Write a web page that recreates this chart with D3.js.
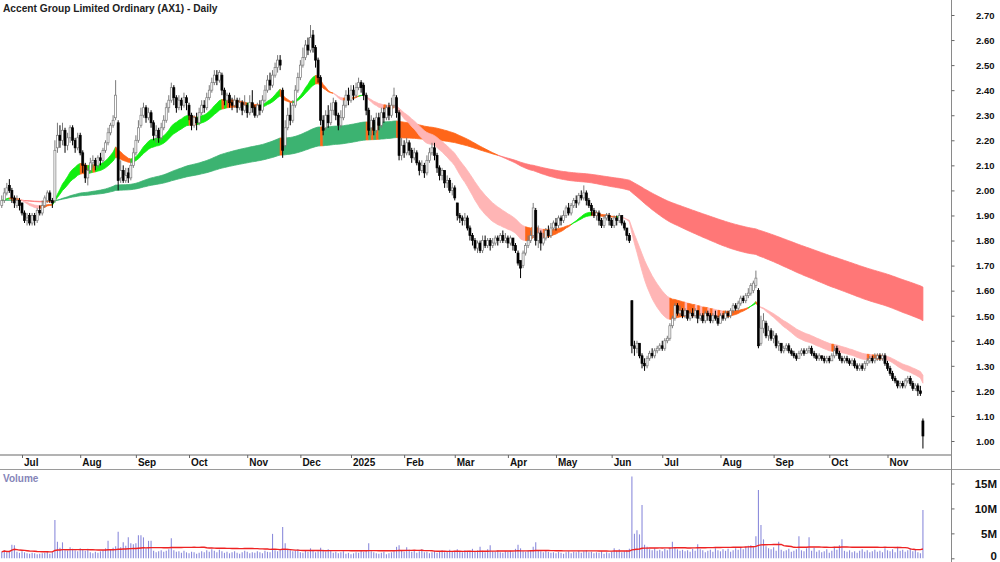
<!DOCTYPE html>
<html><head><meta charset="utf-8">
<script src="https://cdn.jsdelivr.net/npm/d3@7"></script>
<style>body{margin:0;background:#fff}svg{display:block}text{font-family:"Liberation Sans",Arial,sans-serif;font-weight:bold}</style>
</head><body>
<svg id="c" width="1000" height="562"></svg>
<script>
const title = "Accent Group Limited Ordinary (AX1) - Daily";
const startDate = "2024-06-19";
const holidays = ["2024-12-25","2024-12-26","2025-01-01","2025-01-27","2025-04-18","2025-04-21","2025-04-25","2025-06-09"];
const monthLabels = ["Jul","Aug","Sep","Oct","Nov","Dec","2025","Feb","Mar","Apr","May","Jun","Jul","Aug","Sep","Oct","Nov"];
const priceTicks = [1.0,1.1,1.2,1.3,1.4,1.5,1.6,1.7,1.8,1.9,2.0,2.1,2.2,2.3,2.4,2.5,2.6,2.7];
const volumeTicks = [0,5,10,15];
const volumeTickLabels = ["0","5M","10M","15M"];
const shortPeriods = [21,34];
const longPeriods = [144,233];
const volumeMAPeriod = 60;

const open = [
1.94,1.96,1.99,2.02,2.00,1.97,1.94,1.96,1.95,1.91,
1.88,1.90,1.87,1.90,1.88,1.92,1.91,1.94,1.96,1.99,
1.96,1.96,2.17,2.22,2.20,2.24,2.18,2.21,2.25,2.20,
2.17,2.22,2.15,2.10,2.05,2.08,2.11,2.12,2.10,2.13,
2.12,2.16,2.19,2.23,2.26,2.29,2.27,2.05,2.08,2.04,
2.07,2.05,2.10,2.15,2.20,2.26,2.30,2.33,2.29,2.31,
2.27,2.22,2.24,2.21,2.25,2.28,2.33,2.36,2.41,2.37,
2.33,2.36,2.34,2.37,2.34,2.30,2.26,2.29,2.27,2.31,
2.34,2.33,2.37,2.40,2.43,2.46,2.44,2.46,2.40,2.36,
2.38,2.35,2.34,2.36,2.33,2.35,2.32,2.34,2.31,2.35,
2.33,2.30,2.34,2.32,2.36,2.40,2.44,2.42,2.46,2.49,
2.52,2.40,2.18,2.25,2.30,2.28,2.34,2.40,2.45,2.50,
2.53,2.58,2.56,2.62,2.57,2.52,2.45,2.28,2.25,2.30,
2.27,2.32,2.35,2.30,2.26,2.29,2.34,2.38,2.36,2.40,
2.38,2.41,2.43,2.42,2.38,2.32,2.25,2.28,2.24,2.29,
2.26,2.31,2.29,2.33,2.30,2.34,2.37,2.31,2.14,2.18,
2.15,2.19,2.16,2.13,2.15,2.11,2.08,2.10,2.07,2.12,
2.15,2.17,2.14,2.09,2.06,2.08,2.03,2.04,2.00,2.01,
1.95,1.90,1.89,1.88,1.89,1.85,1.82,1.80,1.77,1.79,
1.76,1.80,1.78,1.80,1.78,1.79,1.81,1.80,1.82,1.80,
1.81,1.79,1.81,1.78,1.75,1.72,1.70,1.75,1.78,1.80,
1.82,1.92,1.80,1.83,1.79,1.81,1.84,1.82,1.85,1.87,
1.86,1.89,1.88,1.90,1.93,1.91,1.94,1.96,1.95,1.98,
1.97,1.99,1.96,1.94,1.92,1.90,1.91,1.88,1.86,1.89,
1.90,1.88,1.86,1.89,1.88,1.90,1.87,1.85,1.82,1.56,
1.38,1.37,1.39,1.34,1.31,1.30,1.33,1.35,1.34,1.36,
1.37,1.38,1.37,1.40,1.41,1.46,1.49,1.54,1.51,1.52,
1.50,1.52,1.49,1.51,1.50,1.52,1.49,1.50,1.48,1.51,
1.50,1.48,1.50,1.49,1.47,1.50,1.49,1.51,1.50,1.52,
1.54,1.53,1.55,1.57,1.56,1.58,1.59,1.60,1.62,1.60,
1.39,1.45,1.47,1.42,1.44,1.41,1.42,1.38,1.39,1.36,
1.37,1.38,1.36,1.35,1.34,1.33,1.35,1.36,1.35,1.36,
1.37,1.35,1.34,1.33,1.34,1.33,1.32,1.33,1.32,1.34,
1.37,1.35,1.33,1.32,1.33,1.32,1.31,1.32,1.30,1.29,
1.30,1.29,1.31,1.32,1.33,1.32,1.33,1.34,1.33,1.34,
1.31,1.29,1.27,1.25,1.24,1.22,1.23,1.22,1.24,1.25,
1.23,1.21,1.22,1.20,1.08];

const high = [
1.98,2.01,2.03,2.045,2.01,1.98,1.98,1.97,1.95,1.92,
1.91,1.91,1.91,1.91,1.93,1.94,1.96,1.98,2.00,2.00,
1.97,2.20,2.27,2.26,2.27,2.25,2.23,2.26,2.26,2.21,
2.23,2.23,2.16,2.11,2.09,2.13,2.14,2.13,2.14,2.15,
2.17,2.20,2.25,2.27,2.30,2.44,2.28,2.12,2.10,2.09,
2.09,2.12,2.17,2.22,2.28,2.33,2.35,2.34,2.33,2.32,
2.28,2.26,2.25,2.27,2.30,2.35,2.38,2.43,2.42,2.38,
2.38,2.37,2.39,2.38,2.35,2.31,2.30,2.31,2.33,2.36,
2.36,2.39,2.42,2.45,2.48,2.48,2.48,2.47,2.41,2.39,
2.39,2.37,2.38,2.37,2.37,2.36,2.38,2.35,2.38,2.40,
2.34,2.35,2.36,2.38,2.42,2.46,2.47,2.48,2.51,2.54,
2.54,2.41,2.28,2.33,2.35,2.36,2.42,2.47,2.52,2.57,
2.60,2.61,2.66,2.64,2.58,2.53,2.46,2.30,2.32,2.34,
2.35,2.37,2.36,2.31,2.32,2.36,2.40,2.41,2.42,2.42,
2.43,2.45,2.44,2.43,2.39,2.33,2.30,2.29,2.31,2.31,
2.33,2.33,2.34,2.35,2.37,2.41,2.38,2.32,2.21,2.20,
2.21,2.20,2.17,2.17,2.16,2.12,2.12,2.11,2.14,2.17,
2.19,2.19,2.15,2.10,2.09,2.08,2.06,2.05,2.03,2.02,
1.95,1.91,1.90,1.91,1.90,1.86,1.83,1.81,1.80,1.80,
1.82,1.82,1.81,1.81,1.81,1.82,1.82,1.83,1.84,1.83,
1.82,1.82,1.81,1.79,1.76,1.72,1.76,1.79,1.82,1.84,
1.95,1.93,1.86,1.84,1.83,1.85,1.86,1.87,1.88,1.89,
1.90,1.90,1.92,1.94,1.95,1.95,1.97,1.98,1.99,2.00,
2.02,2.00,1.97,1.95,1.93,1.92,1.92,1.89,1.90,1.91,
1.91,1.89,1.90,1.90,1.91,1.90,1.88,1.85,1.83,1.56,
1.40,1.40,1.39,1.35,1.33,1.34,1.36,1.37,1.37,1.38,
1.39,1.40,1.41,1.42,1.47,1.50,1.55,1.55,1.54,1.53,
1.53,1.52,1.52,1.53,1.53,1.52,1.51,1.51,1.52,1.52,
1.51,1.51,1.52,1.50,1.51,1.51,1.52,1.52,1.53,1.55,
1.55,1.56,1.58,1.58,1.59,1.61,1.63,1.64,1.68,1.61,
1.50,1.51,1.48,1.46,1.45,1.44,1.43,1.40,1.39,1.38,
1.39,1.39,1.37,1.36,1.35,1.36,1.37,1.37,1.37,1.38,
1.38,1.36,1.35,1.35,1.34,1.34,1.34,1.34,1.35,1.38,
1.38,1.36,1.34,1.34,1.34,1.33,1.33,1.33,1.31,1.31,
1.31,1.32,1.33,1.34,1.34,1.35,1.35,1.35,1.35,1.35,
1.32,1.30,1.28,1.26,1.24,1.24,1.24,1.25,1.26,1.26,
1.24,1.23,1.23,1.22,1.09];

const low = [
1.93,1.95,1.98,1.99,1.95,1.93,1.93,1.92,1.90,1.87,
1.86,1.86,1.86,1.86,1.87,1.90,1.90,1.93,1.95,1.95,
1.93,1.95,2.15,2.17,2.18,2.15,2.16,2.19,2.18,2.15,
2.16,2.14,2.07,2.03,2.02,2.07,2.09,2.08,2.09,2.10,
2.11,2.15,2.18,2.22,2.25,2.28,2.00,2.03,2.03,2.03,
2.03,2.04,2.09,2.14,2.19,2.25,2.29,2.27,2.28,2.25,
2.20,2.19,2.19,2.20,2.24,2.27,2.31,2.35,2.34,2.31,
2.32,2.32,2.33,2.32,2.28,2.24,2.25,2.24,2.26,2.30,
2.31,2.32,2.36,2.39,2.42,2.42,2.43,2.38,2.34,2.34,
2.33,2.32,2.33,2.31,2.32,2.30,2.31,2.29,2.30,2.31,
2.29,2.29,2.30,2.31,2.35,2.39,2.40,2.41,2.45,2.47,
2.48,2.13,2.17,2.24,2.26,2.27,2.33,2.39,2.44,2.49,
2.52,2.54,2.55,2.55,2.49,2.43,2.26,2.22,2.24,2.25,
2.26,2.30,2.28,2.24,2.25,2.28,2.33,2.34,2.35,2.36,
2.37,2.40,2.39,2.36,2.30,2.22,2.22,2.22,2.23,2.24,
2.25,2.27,2.28,2.28,2.29,2.33,2.29,2.12,2.12,2.13,
2.14,2.14,2.11,2.12,2.10,2.06,2.07,2.05,2.06,2.11,
2.14,2.12,2.07,2.04,2.04,2.01,2.01,1.99,1.98,1.96,
1.88,1.87,1.86,1.86,1.84,1.80,1.78,1.76,1.75,1.75,
1.75,1.77,1.77,1.76,1.77,1.78,1.78,1.79,1.79,1.79,
1.77,1.78,1.76,1.75,1.70,1.65,1.69,1.74,1.77,1.79,
1.81,1.78,1.77,1.76,1.78,1.80,1.81,1.81,1.84,1.84,
1.85,1.86,1.87,1.89,1.90,1.90,1.93,1.93,1.94,1.96,
1.96,1.94,1.93,1.90,1.89,1.88,1.86,1.85,1.85,1.88,
1.86,1.85,1.85,1.86,1.87,1.86,1.84,1.80,1.79,1.35,
1.34,1.35,1.33,1.29,1.28,1.29,1.32,1.33,1.33,1.35,
1.36,1.36,1.36,1.39,1.40,1.45,1.48,1.50,1.50,1.49,
1.49,1.48,1.48,1.49,1.49,1.47,1.48,1.47,1.47,1.48,
1.47,1.47,1.48,1.46,1.47,1.48,1.48,1.49,1.49,1.51,
1.52,1.52,1.54,1.55,1.55,1.57,1.58,1.59,1.61,1.37,
1.38,1.43,1.41,1.40,1.40,1.39,1.37,1.36,1.35,1.35,
1.36,1.35,1.34,1.33,1.32,1.33,1.34,1.34,1.35,1.35,
1.34,1.33,1.32,1.32,1.32,1.31,1.31,1.31,1.32,1.33,
1.34,1.32,1.31,1.31,1.31,1.30,1.30,1.29,1.28,1.28,
1.28,1.28,1.30,1.31,1.31,1.31,1.32,1.32,1.32,1.30,
1.28,1.26,1.24,1.23,1.21,1.21,1.21,1.21,1.23,1.22,
1.20,1.20,1.18,1.18,0.97];

const close = [
1.96,1.99,2.01,2.00,1.97,1.95,1.96,1.94,1.91,1.88,
1.89,1.87,1.90,1.88,1.92,1.91,1.94,1.97,1.99,1.96,
1.95,2.16,2.22,2.20,2.24,2.18,2.21,2.25,2.20,2.17,
2.21,2.15,2.10,2.05,2.08,2.11,2.12,2.10,2.13,2.12,
2.16,2.19,2.23,2.26,2.28,2.38,2.04,2.08,2.04,2.06,
2.05,2.10,2.15,2.20,2.25,2.30,2.33,2.29,2.31,2.27,
2.22,2.24,2.21,2.25,2.28,2.33,2.36,2.41,2.37,2.33,
2.36,2.34,2.37,2.35,2.30,2.26,2.29,2.27,2.31,2.34,
2.33,2.37,2.40,2.43,2.46,2.44,2.47,2.40,2.36,2.38,
2.35,2.34,2.36,2.33,2.35,2.32,2.34,2.31,2.35,2.33,
2.30,2.34,2.32,2.36,2.40,2.44,2.42,2.46,2.49,2.52,
2.50,2.16,2.25,2.30,2.28,2.34,2.40,2.45,2.50,2.53,
2.58,2.56,2.61,2.57,2.52,2.45,2.28,2.24,2.30,2.27,
2.32,2.35,2.30,2.26,2.29,2.34,2.38,2.36,2.40,2.38,
2.41,2.43,2.41,2.38,2.32,2.24,2.28,2.24,2.29,2.26,
2.31,2.29,2.33,2.30,2.34,2.38,2.31,2.14,2.18,2.15,
2.19,2.16,2.13,2.15,2.11,2.08,2.10,2.07,2.12,2.15,
2.17,2.14,2.09,2.06,2.08,2.03,2.04,2.00,2.01,1.97,
1.90,1.89,1.88,1.89,1.85,1.82,1.80,1.77,1.79,1.76,
1.80,1.78,1.80,1.78,1.79,1.81,1.80,1.82,1.80,1.81,
1.79,1.81,1.78,1.76,1.71,1.69,1.75,1.78,1.80,1.82,
1.93,1.80,1.83,1.79,1.81,1.84,1.82,1.85,1.87,1.86,
1.89,1.88,1.90,1.93,1.91,1.94,1.96,1.95,1.98,1.97,
1.99,1.96,1.94,1.92,1.90,1.91,1.88,1.86,1.89,1.90,
1.88,1.86,1.89,1.88,1.90,1.87,1.85,1.82,1.80,1.38,
1.37,1.39,1.34,1.31,1.30,1.33,1.35,1.34,1.36,1.37,
1.38,1.37,1.40,1.41,1.46,1.49,1.54,1.51,1.52,1.50,
1.52,1.49,1.51,1.50,1.52,1.49,1.50,1.48,1.51,1.50,
1.48,1.50,1.49,1.47,1.50,1.49,1.51,1.50,1.52,1.54,
1.53,1.55,1.57,1.56,1.58,1.59,1.62,1.63,1.65,1.38,
1.45,1.48,1.42,1.44,1.41,1.42,1.38,1.39,1.36,1.37,
1.38,1.36,1.35,1.34,1.33,1.35,1.36,1.35,1.36,1.37,
1.35,1.34,1.33,1.34,1.33,1.32,1.33,1.32,1.34,1.36,
1.35,1.33,1.32,1.33,1.32,1.31,1.32,1.30,1.29,1.30,
1.29,1.31,1.32,1.33,1.32,1.33,1.34,1.33,1.34,1.31,
1.29,1.27,1.25,1.24,1.22,1.23,1.22,1.24,1.25,1.23,
1.21,1.22,1.20,1.19,1.02];

// volume in millions
const volume = [
1.3,1.6,1.2,1.4,2.7,2.6,1.3,1.1,1.4,1.2,
1.0,0.9,1.1,1.0,0.8,0.9,1.0,1.1,1.3,0.9,
1.2,7.7,3.3,2.1,3.2,1.8,1.5,2.2,1.9,1.6,
1.4,2.0,1.7,1.5,1.9,1.2,1.0,1.3,1.1,1.4,
1.6,2.0,3.5,1.8,2.1,2.4,5.3,2.2,3.2,2.5,
4.2,3.0,2.8,3.0,4.6,4.6,4.2,2.0,3.5,3.5,
1.5,1.2,1.4,1.6,1.3,1.5,1.8,4.0,1.6,1.3,
1.4,1.1,1.5,1.2,1.0,1.3,1.2,0.9,1.1,1.4,
1.2,1.6,1.3,1.8,1.5,1.2,1.7,1.4,1.1,1.3,
1.0,1.2,1.4,1.1,0.9,1.2,1.5,1.3,1.0,1.2,
1.1,1.4,1.2,1.0,1.5,1.3,1.2,4.9,1.6,1.4,
1.8,6.3,3.0,1.9,1.6,1.4,1.5,1.8,1.2,1.1,
1.6,1.3,2.0,1.5,1.2,1.4,2.1,1.7,1.3,1.8,
1.5,1.1,1.3,1.0,1.2,1.4,0.9,1.1,0.8,1.0,
1.2,1.1,1.6,1.3,1.5,3.0,1.4,1.2,1.0,0.9,
1.1,1.3,0.8,1.0,1.2,1.4,2.3,2.6,1.5,1.3,
2.2,1.7,1.3,1.6,1.1,1.4,1.8,1.2,1.3,1.0,
1.2,1.5,1.1,1.3,1.6,1.2,1.4,1.7,1.3,1.5,
1.8,1.4,1.2,1.6,1.3,1.5,1.9,1.4,1.6,2.3,
1.5,1.2,1.8,2.6,1.4,1.3,1.6,1.2,1.1,1.4,
1.3,1.5,1.2,1.9,2.7,2.0,1.4,1.3,1.6,1.5,
2.3,3.2,1.6,1.4,1.2,1.5,1.3,1.1,1.2,1.0,
1.3,1.1,0.9,1.2,1.4,1.0,1.3,1.2,1.5,1.1,
1.4,1.6,1.2,1.3,1.0,1.2,1.1,1.4,0.9,1.2,
1.0,1.3,2.0,1.5,1.8,1.2,1.4,1.6,1.9,16.4,
4.9,5.6,4.8,10.7,2.7,2.3,1.8,1.6,2.0,1.5,
1.7,1.4,1.9,1.6,2.1,3.3,2.2,1.8,1.5,1.7,
1.4,1.6,1.3,1.9,1.5,2.8,1.8,1.6,1.2,1.5,
1.7,1.3,2.0,1.6,1.4,1.8,1.5,1.9,1.3,1.6,
2.0,1.7,2.1,1.8,2.3,2.5,2.6,2.2,4.4,13.7,
6.7,3.8,2.4,2.0,1.8,2.2,1.5,3.3,1.7,1.4,
1.6,1.9,1.3,1.5,1.8,4.4,1.6,1.4,2.0,4.2,
1.5,2.1,1.3,1.6,1.2,1.4,1.8,1.1,1.5,2.3,
1.7,2.6,3.8,1.5,1.3,1.6,1.2,1.4,1.1,1.5,
1.8,1.3,1.6,1.2,1.4,1.7,1.3,1.5,1.2,2.0,
1.6,1.4,1.8,1.2,2.3,1.5,1.7,1.3,1.6,2.0,
1.4,1.8,1.2,1.0,9.7];

const colors = {
  shortBull:"#10ee10", shortMixed:"#ff6619", shortBear:"#ffb5b5",
  longBull:"#3cb371", longMixed:"#ff6619", longBear:"#ff7777"
};

const N = Math.min(open.length, high.length, low.length, close.length, volume.length);

// trading dates
const hol = new Set(holidays);
const dates = [];
{
  let d = new Date(startDate + "T00:00:00Z");
  while (dates.length < N) {
    const wd = d.getUTCDay();
    const s = d.toISOString().slice(0,10);
    if (wd !== 0 && wd !== 6 && !hol.has(s)) dates.push(new Date(d));
    d = new Date(d.getTime() + 86400000);
  }
}
const monthIdx = [];
for (let i = 1; i < N; i++) if (dates[i].getUTCMonth() !== dates[i-1].getUTCMonth()) monthIdx.push(i);

const svg = d3.select("#c");
const x = d3.scaleLinear().domain([8, 350]).range([22, 887.5]);
const y = d3.scaleLinear().domain([1.0, 2.7]).range([441, 15]);
const yv = d3.scaleLinear().domain([0, 15]).range([558.3, 483.5]);

function ema(arr, n) {
  const a = 2 / (n + 1); const out = []; let v = arr[0];
  for (let i = 0; i < arr.length; i++) { if (i > 0) v = v + a * (arr[i] - v); out.push(v); }
  return out;
}
function states(f, s) {
  const st = f.map((v, i) => {
    if (i === 0) return null;
    const df = f[i] - f[i-1], ds = s[i] - s[i-1];
    if (v > s[i] && df > 0 && ds > 0) return "Bull";
    if (v < s[i] && df < 0 && ds < 0) return "Bear";
    return "Mixed";
  });
  st[0] = st[1];
  return st;
}
function drawBand(g, f, s, prefix) {
  const st = states(f, s);
  const area = d3.area().x(j => x(j)).y0(j => y(Math.min(f[j], s[j]))).y1(j => y(Math.max(f[j], s[j])));
  let start = 0;
  for (let i = 1; i <= N; i++) {
    if (i === N || st[i] !== st[start]) {
      const a = Math.max(0, start - 1), b = i - 1;
      const c = colors[prefix + st[start]];
      g.append("path").datum(d3.range(a, b + 1)).attr("d", area)
        .attr("fill", c).attr("stroke", c).attr("stroke-width", 0.8).attr("stroke-linejoin", "round");
      start = i;
    }
  }
}

const closes = close.slice(0, N);
const lf = ema(closes, longPeriods[0]), ls = ema(closes, longPeriods[1]);
const sf = ema(closes, shortPeriods[0]), ss = ema(closes, shortPeriods[1]);
drawBand(svg.append("g"), lf, ls, "long");
drawBand(svg.append("g"), sf, ss, "short");

// candles
const idx = d3.range(N);
const cg = svg.append("g");
cg.selectAll("line").data(idx).join("line")
  .attr("x1", i => x(i)).attr("x2", i => x(i))
  .attr("y1", i => y(high[i])).attr("y2", i => y(low[i]))
  .attr("stroke", i => close[i] >= open[i] ? "#7a7a7a" : "#000").attr("stroke-width", 1);
cg.selectAll("rect").data(idx).join("rect")
  .attr("x", i => x(i) - 1).attr("width", 2)
  .attr("y", i => y(Math.max(open[i], close[i])))
  .attr("height", i => Math.max(0.8, Math.abs(y(open[i]) - y(close[i]))))
  .attr("fill", i => close[i] >= open[i] ? "#fff" : "#000")
  .attr("stroke", i => close[i] >= open[i] ? "#7a7a7a" : "#000")
  .attr("stroke-width", 0.7);

// volume
const vg = svg.append("g");
vg.selectAll("line").data(idx).join("line")
  .attr("x1", i => x(i)).attr("x2", i => x(i))
  .attr("y1", yv(0)).attr("y2", i => yv(volume[i]))
  .attr("stroke", "#8c8cdc").attr("stroke-width", 1.1);
const vma = idx.map(i => d3.mean(volume.slice(Math.max(0, i - volumeMAPeriod + 1), i + 1)));
vg.append("path").datum(idx)
  .attr("d", d3.line().x(i => x(i)).y(i => yv(vma[i])))
  .attr("fill", "none").attr("stroke", "#ee2222").attr("stroke-width", 1.4);

// frame lines
svg.append("line").attr("x1", 0).attr("x2", 951).attr("y1", 455).attr("y2", 455).attr("stroke", "#9a9a9a").attr("stroke-width", 1.5);
svg.append("line").attr("x1", 0).attr("x2", 1000).attr("y1", 469.5).attr("y2", 469.5).attr("stroke", "#9a9a9a").attr("stroke-width", 1);
svg.append("line").attr("x1", 951.5).attr("x2", 951.5).attr("y1", 0).attr("y2", 562).attr("stroke", "#8a8a8a").attr("stroke-width", 1);

// month axis
const xa = svg.append("g").attr("transform", "translate(0,455)")
  .call(d3.axisBottom(x).tickValues(monthIdx).tickSize(3).tickFormat((d, k) => monthLabels[k] || ""));
xa.select(".domain").remove();
xa.selectAll(".tick line").attr("stroke", "#666");
xa.selectAll(".tick text").attr("text-anchor", "start").attr("x", 1.5).attr("y", 10.5).attr("dy", null)
  .attr("fill", "#111").style("font-size", "10px").style("font-family", '"Liberation Sans",Arial,sans-serif').style("font-weight", "bold");

// price axis
const ya = svg.append("g").attr("transform", "translate(951.5,0)")
  .call(d3.axisRight(y).tickValues(priceTicks).tickSize(3).tickFormat(d3.format(".2f")));
ya.select(".domain").remove();
ya.selectAll(".tick line").attr("stroke", "#666");
ya.selectAll(".tick text").attr("text-anchor", "end").attr("x", 43).attr("dy", "0.35em")
  .attr("fill", "#111").style("font-size", "9.5px").style("font-family", '"Liberation Sans",Arial,sans-serif').style("font-weight", "bold");

// volume axis
const va = svg.append("g").attr("transform", "translate(951.5,0)")
  .call(d3.axisRight(yv).tickValues(volumeTicks).tickSize(3).tickFormat((d, k) => volumeTickLabels[k]));
va.select(".domain").remove();
va.selectAll(".tick line").attr("stroke", "#666");
va.selectAll(".tick text").attr("text-anchor", "end").attr("x", 45.5).attr("dy", "0.36em")
  .attr("fill", "#111").style("font-size", "11.5px").style("font-family", '"Liberation Sans",Arial,sans-serif').style("font-weight", "bold");
va.selectAll(".tick text").filter(d => d === 0).attr("dy", "0.1em");

// labels
svg.append("text").attr("x", 3).attr("y", 12).attr("fill", "#222").style("font-size", "10.2px").text(title);
svg.append("text").attr("x", 3).attr("y", 482).attr("fill", "#8585b8").style("font-size", "10px").text("Volume");
</script>
</body></html>
